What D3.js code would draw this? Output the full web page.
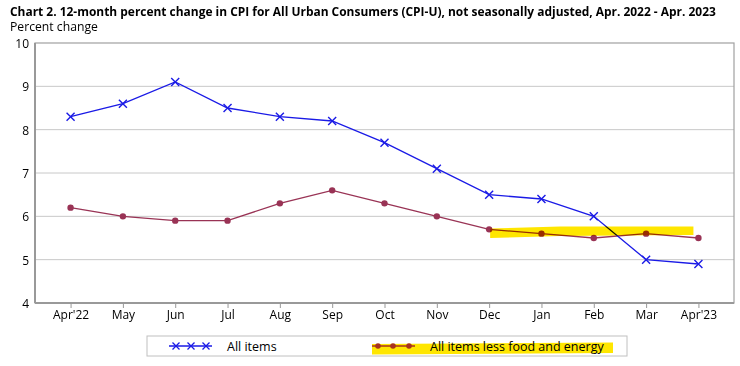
<!DOCTYPE html>
<html><head><meta charset="utf-8">
<script src="https://cdn.jsdelivr.net/npm/d3@7/dist/d3.min.js"></script>
<style>body{margin:0;background:#fff}svg{display:block;font-family:"Open Sans",sans-serif}</style>
</head><body><svg id="c" width="740" height="366"></svg>
<script>
const months = ["Apr'22","May","Jun","Jul","Aug","Sep","Oct","Nov","Dec","Jan","Feb","Mar","Apr'23"];
const allItems = [8.3,8.6,9.1,8.5,8.3,8.2,7.7,7.1,6.5,6.4,6.0,5.0,4.9];
const coreItems = [6.2,6.0,5.9,5.9,6.3,6.6,6.3,6.0,5.7,5.6,5.5,5.6,5.5];
const yTicks = [4,5,6,7,8,9,10];
const seriesNames = ["All items","All items less food and energy"];
const titleText = "Chart 2. 12-month percent change in CPI for All Urban Consumers (CPI-U), not seasonally adjusted, Apr. 2022 - Apr. 2023";
const yLabel = "Percent change";

const svg = d3.select("#c");
const L=35, R=734, T=43, B=303;
const x = d3.scalePoint().domain(months).range([L,R]).padding(0.68);
const y = d3.scaleLinear().domain([4,10]).range([B,T]);
const blue="#1a1ae6", maroon="#993355";

// title
const tt = svg.append("text").attr("x",10).attr("y",15.5).attr("font-weight","bold").attr("font-size",12.5).attr("fill","#000").text(titleText);
let w = tt.node().getComputedTextLength();
tt.attr("font-size", 12.5*707/w);
const yl = svg.append("text").attr("x",10).attr("y",31).attr("font-size",13).attr("fill","#000").text(yLabel);
w = yl.node().getComputedTextLength();
yl.attr("font-size", 13*88/w);

// gridlines
svg.append("g").selectAll("line").data(yTicks.filter(d=>d>4&&d<10)).join("line")
  .attr("x1",L).attr("x2",R).attr("y1",d=>y(d)).attr("y2",d=>y(d)).attr("stroke","#c8c8c8").attr("stroke-width",1);
// frame
svg.append("rect").attr("x",L).attr("y",T).attr("width",R-L).attr("height",B-T).attr("fill","none").attr("stroke","#a0a0a0").attr("stroke-width",1.2);
svg.append("line").attr("x1",L).attr("x2",L).attr("y1",T).attr("y2",B).attr("stroke","#999").attr("stroke-width",2);
svg.append("line").attr("x1",L).attr("x2",R).attr("y1",B).attr("y2",B).attr("stroke","#999").attr("stroke-width",2);

// axes
const ya = svg.append("g").attr("transform",`translate(${L},0)`).call(d3.axisLeft(y).tickValues(yTicks).tickFormat(d3.format("d")).tickSize(0).tickPadding(6));
ya.select(".domain").remove();
ya.selectAll("text").attr("font-size",12).attr("dy","0.38em").attr("fill","#000").attr("font-family","'Open Sans',sans-serif");
const xa = svg.append("g").attr("transform",`translate(0,${B})`).call(d3.axisBottom(x).tickSize(5).tickPadding(2));
xa.select(".domain").remove();
xa.selectAll("line").attr("stroke","#999");
xa.selectAll("text").attr("font-size",12).attr("fill","#000").attr("font-family","'Open Sans',sans-serif");

// lines
const line = d3.line().x((d,i)=>x(months[i])).y(d=>y(d));
svg.append("path").datum(coreItems).attr("d",line).attr("fill","none").attr("stroke",maroon).attr("stroke-width",1.3);
svg.append("g").selectAll("circle").data(coreItems).join("circle").attr("cx",(d,i)=>x(months[i])).attr("cy",d=>y(d)).attr("r",3.2).attr("fill",maroon);
svg.append("path").datum(allItems).attr("d",line).attr("fill","none").attr("stroke",blue).attr("stroke-width",1.3);
const s=4;
svg.append("g").selectAll("path").data(allItems).join("path")
  .attr("d",(d,i)=>{const cx=x(months[i]),cy=y(d);return `M${cx-s},${cy-s}L${cx+s},${cy+s}M${cx-s},${cy+s}L${cx+s},${cy-s}`;})
  .attr("stroke",blue).attr("stroke-width",1.4).attr("fill","none");

// highlight on chart
const hx0 = x("Dec")+1, hx1 = x("Apr'23")-5;
svg.append("path").attr("d",`M${hx0},${228.5}L${hx0+70},${226.5}L${hx1},${226.5}L${hx1},${235}L${hx0+70},${236}L${hx0},${238}Z`)
  .attr("fill","#ffe600").style("mix-blend-mode","multiply");

// legend
const lg = svg.append("g");
lg.append("rect").attr("x",147).attr("y",336).attr("width",480).attr("height",20).attr("fill","#fff").attr("stroke","#c0c0c0");
lg.append("path").attr("d","M372,344 L613,342.5 L613,353 L372,354.5Z").attr("fill","#ffe600");
lg.append("line").attr("x1",169).attr("x2",212).attr("y1",346).attr("y2",346).attr("stroke",blue).attr("stroke-width",1.3);
[176,191,206].forEach(cx=>{lg.append("path").attr("d",`M${cx-3.5},${346-3.5}L${cx+3.5},${346+3.5}M${cx-3.5},${346+3.5}L${cx+3.5},${346-3.5}`).attr("stroke",blue).attr("stroke-width",1.3);});
lg.append("text").attr("x",227).attr("y",350.5).attr("font-size",12.5).attr("fill","#000").text(seriesNames[0]);
lg.append("line").attr("x1",372).attr("x2",415).attr("y1",346).attr("y2",346).attr("stroke","#a8321e").attr("stroke-width",1.3);
[378,393,409].forEach(cx=>{lg.append("circle").attr("cx",cx).attr("cy",346).attr("r",2.8).attr("fill","#a8321e");});
lg.append("text").attr("x",430).attr("y",350.5).attr("font-size",12.5).attr("fill","#000").text(seriesNames[1]);
</script></body></html>
